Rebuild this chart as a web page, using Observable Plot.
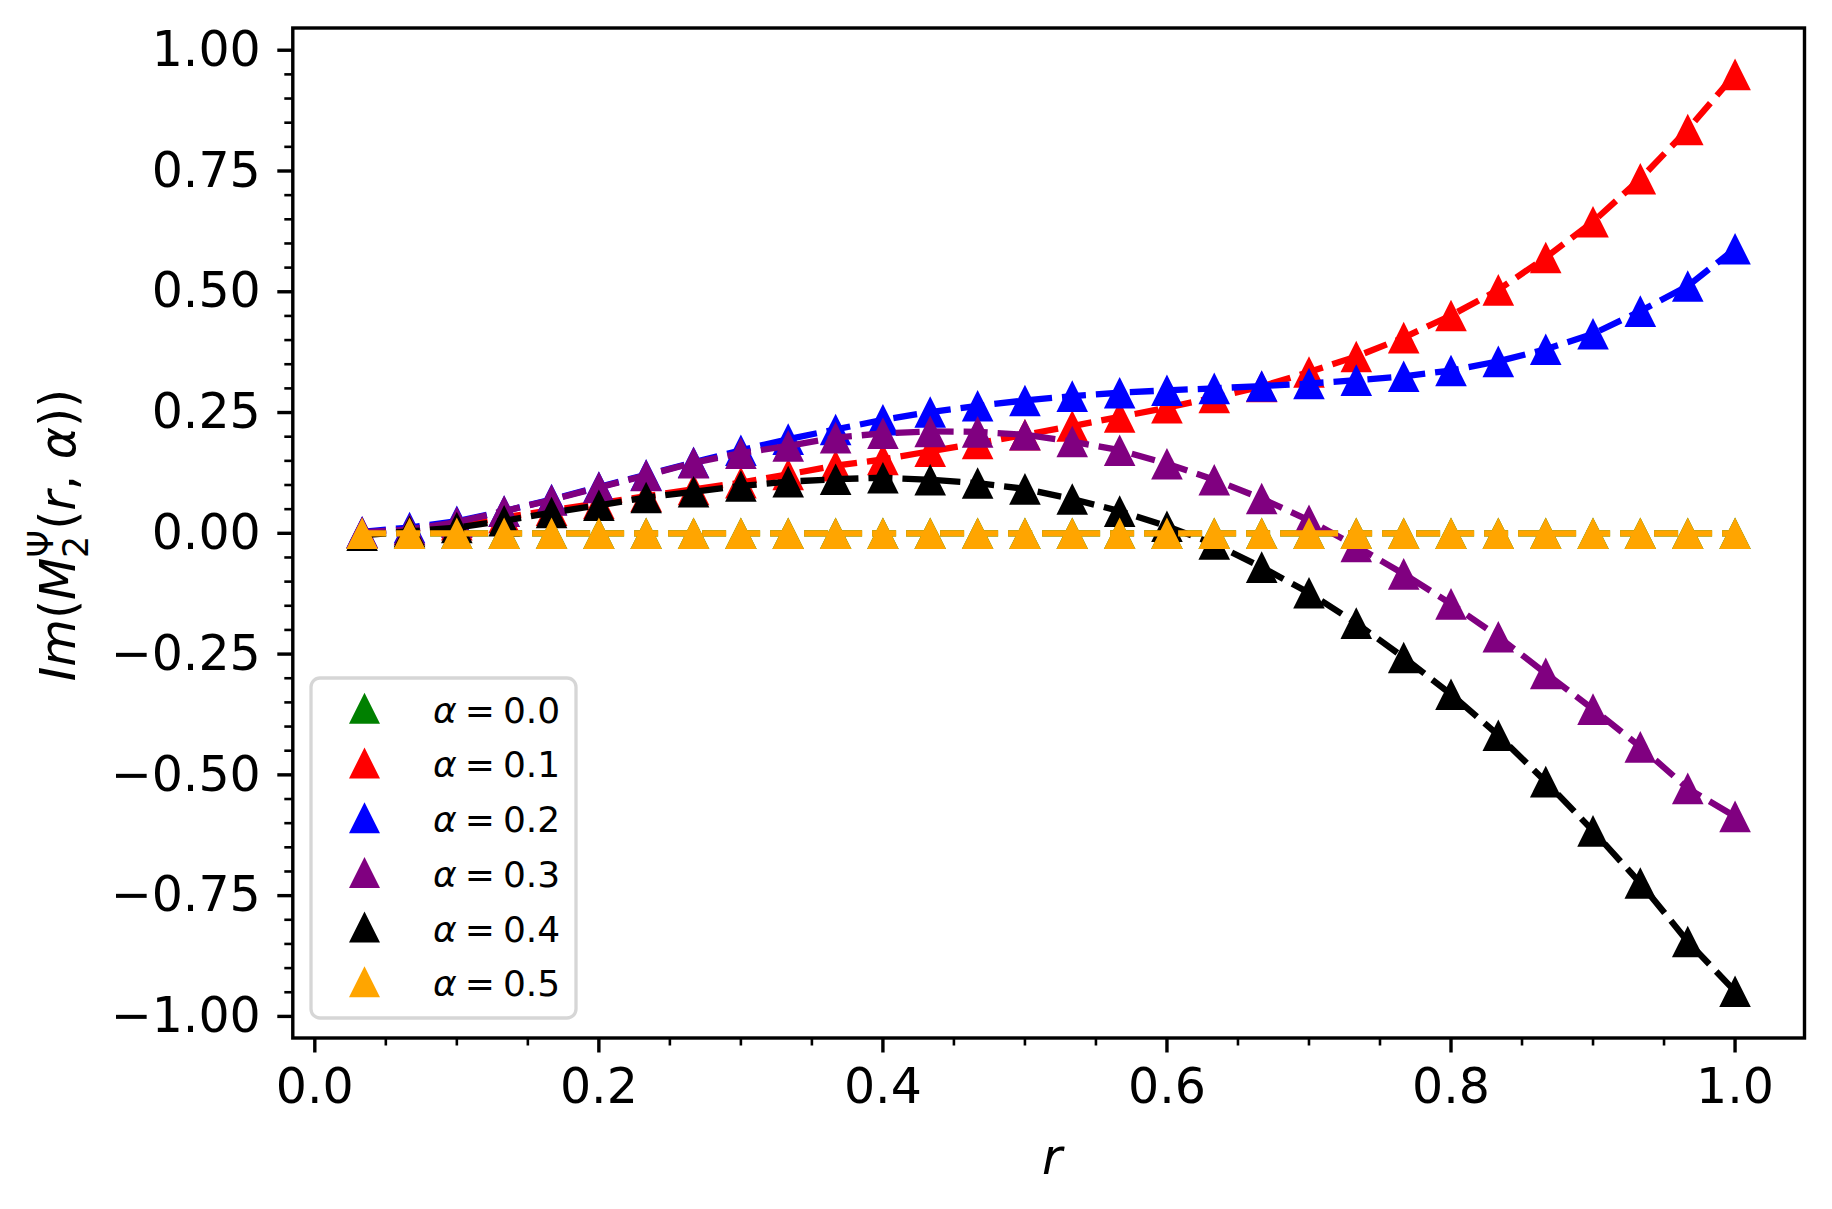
<!DOCTYPE html>
<html>
<head>
<meta charset="utf-8">
<script src="https://cdn.jsdelivr.net/npm/d3@7"></script>
<script src="https://cdn.jsdelivr.net/npm/@observablehq/plot@0.6"></script>
<style>
  html, body { margin: 0; padding: 0; background: #ffffff; }
  #chart { width: 1832px; height: 1209px; }
  svg text { white-space: pre; }
</style>
</head>
<body>
<div id="chart"></div>
<script>
// ---------------- data ----------------
const rValues = [0.0333, 0.0667, 0.1000, 0.1333, 0.1667, 0.2000, 0.2333, 0.2667, 0.3000, 0.3333,
                 0.3667, 0.4000, 0.4333, 0.4667, 0.5000, 0.5333, 0.5667, 0.6000, 0.6333, 0.6667,
                 0.7000, 0.7333, 0.7667, 0.8000, 0.8333, 0.8667, 0.9000, 0.9333, 0.9667, 1.0000];

const alpha00 = [0, 0, 0, 0, 0, 0, 0, 0, 0, 0,
                 0, 0, 0, 0, 0, 0, 0, 0, 0, 0,
                 0, 0, 0, 0, 0, 0, 0, 0, 0, 0];
const alpha01 = [0.002, 0.008, 0.018, 0.033, 0.048, 0.062, 0.077, 0.091, 0.105, 0.122,
                 0.140, 0.153, 0.170, 0.186, 0.204, 0.222, 0.241, 0.260, 0.281, 0.304,
                 0.334, 0.366, 0.405, 0.451, 0.504, 0.571, 0.645, 0.734, 0.836, 0.950];
const alpha02 = [0.003, 0.012, 0.025, 0.046, 0.070, 0.096, 0.121, 0.147, 0.172, 0.195,
                 0.215, 0.235, 0.251, 0.264, 0.275, 0.284, 0.291, 0.296, 0.300, 0.305,
                 0.310, 0.317, 0.325, 0.337, 0.356, 0.381, 0.413, 0.460, 0.512, 0.589];
const alpha03 = [0.002, 0.008, 0.023, 0.046, 0.069, 0.095, 0.120, 0.146, 0.166, 0.181,
                 0.198, 0.207, 0.211, 0.210, 0.204, 0.190, 0.172, 0.144, 0.111, 0.072,
                 0.027, -0.027, -0.084, -0.146, -0.214, -0.290, -0.364, -0.442, -0.528, -0.586];
const alpha04 = [-0.004, 0.004, 0.012, 0.026, 0.043, 0.058, 0.074, 0.086, 0.098, 0.107,
                 0.112, 0.115, 0.111, 0.104, 0.092, 0.071, 0.046, 0.0145, -0.022, -0.070,
                 -0.123, -0.186, -0.257, -0.333, -0.418, -0.514, -0.616, -0.724, -0.845, -0.948];
const alpha05 = [0, 0, 0, 0, 0, 0, 0, 0, 0, 0,
                 0, 0, 0, 0, 0, 0, 0, 0, 0, 0,
                 0, 0, 0, 0, 0, 0, 0, 0, 0, 0];

const seriesLabels = ["0.0", "0.1", "0.2", "0.3", "0.4", "0.5"];
const seriesColors = ["green", "red", "blue", "purple", "black", "orange"];
const seriesValues = [alpha00, alpha01, alpha02, alpha03, alpha04, alpha05];

const xMajor = [0.0, 0.2, 0.4, 0.6, 0.8, 1.0];
const xMinor = [0.05, 0.10, 0.15, 0.25, 0.30, 0.35, 0.45, 0.50, 0.55, 0.65, 0.70, 0.75, 0.85, 0.90, 0.95];
const yMajor = [-1.00, -0.75, -0.50, -0.25, 0.00, 0.25, 0.50, 0.75, 1.00];
const yMinor = [-0.95, -0.90, -0.85, -0.80, -0.70, -0.65, -0.60, -0.55, -0.45, -0.40, -0.35, -0.30,
                -0.20, -0.15, -0.10, -0.05, 0.05, 0.10, 0.15, 0.20, 0.30, 0.35, 0.40, 0.45,
                0.55, 0.60, 0.65, 0.70, 0.80, 0.85, 0.90, 0.95];

// ---------------- chart ----------------
// matplotlib-style "^" marker: width == height, centred on the point
const triangle = {
  draw(ctx, size) {
    const h = Math.sqrt(size / Math.PI);
    ctx.moveTo(0, -h);
    ctx.lineTo(h, h);
    ctx.lineTo(-h, h);
    ctx.closePath();
  }
};

const series = seriesLabels.map((label, i) => ({
  label,
  color: seriesColors[i],
  data: rValues.map((r, j) => ({r, v: seriesValues[i][j]}))
}));

const marks = [];
for (const s of series) {
  marks.push(Plot.line(s.data, {
    x: "r", y: "v", stroke: s.color, strokeWidth: 6.3,
    strokeDasharray: "24,10", strokeLinecap: "butt", strokeLinejoin: "round"
  }));
  marks.push(Plot.dot(s.data, {
    x: "r", y: "v", r: 15.8, symbol: triangle, fill: s.color, stroke: "none"
  }));
}

const fmt2 = d3.format(".2f");
const fmt1 = d3.format(".1f");

const svgNode = Plot.plot({
  width: 1832,
  height: 1209,
  marginLeft: 292.3,
  marginRight: 28,
  marginTop: 27.5,
  marginBottom: 171.5,
  style: {background: "white", color: "black", fontFamily: "DejaVu Sans"},
  x: {domain: [-0.0155, 1.0489]},
  y: {domain: [-1.0447, 1.046]},
  marks: [
    ...marks,
    Plot.axisX(xMinor, {tickSize: 8, tickFormat: () => "", strokeWidth: 2.6, label: null}),
    Plot.axisX(xMajor, {tickSize: 15, tickPadding: 15, tickFormat: fmt1, fontSize: 49, strokeWidth: 3.4, label: null}),
    Plot.axisY(yMinor, {tickSize: 8, tickFormat: () => "", strokeWidth: 2.6, label: null}),
    Plot.axisY(yMajor, {tickSize: 15, tickPadding: 17, tickFormat: fmt2, fontSize: 49, strokeWidth: 3.4, label: null}),
    Plot.frame({stroke: "black", strokeWidth: 3.4})
  ]
});

document.getElementById("chart").appendChild(svgNode);
const svg = d3.select(svgNode);

// ---------------- axis labels ----------------
const yl = svg.append("text")
  .attr("transform", "translate(75,535) rotate(-90)")
  .attr("text-anchor", "middle")
  .attr("font-family", "DejaVu Sans")
  .attr("font-size", 49)
  .attr("fill", "black");
yl.append("tspan").attr("font-style", "italic").text("Im");
yl.append("tspan").text("(");
yl.append("tspan").attr("font-style", "italic").text("M");
yl.append("tspan").attr("font-size", 35).attr("dy", -22).text("Ψ");
yl.append("tspan").attr("font-size", 35).attr("dx", -28).attr("dy", 35).text("2");
yl.append("tspan").attr("dx", 6).attr("dy", -13).text("(");
yl.append("tspan").attr("font-style", "italic").text("r");
yl.append("tspan").text(", ");
yl.append("tspan").attr("font-style", "italic").text("α");
yl.append("tspan").text("))");

svg.append("text")
  .attr("x", 1052).attr("y", 1174)
  .attr("text-anchor", "middle")
  .attr("font-family", "DejaVu Sans")
  .attr("font-style", "italic")
  .attr("font-size", 49)
  .attr("fill", "black")
  .text("r");

// ---------------- legend ----------------
const lg = svg.append("g")
  .attr("font-family", "DejaVu Sans")
  .attr("font-size", 36)
  .attr("text-anchor", "start")
  .attr("fill", "black");
lg.append("rect")
  .attr("x", 311).attr("y", 678).attr("width", 265).attr("height", 340)
  .attr("rx", 9).attr("ry", 9)
  .attr("fill", "white").attr("fill-opacity", 0.8)
  .attr("stroke", "#cccccc").attr("stroke-opacity", 0.8).attr("stroke-width", 3.3);
const triPath = d3.symbol(triangle, Math.PI * 15.5 * 15.5)();
series.forEach((s, i) => {
  const cy = 708.3 + i * 54.7;
  lg.append("path").attr("d", triPath).attr("transform", `translate(364.5,${cy})`).attr("fill", s.color);
  const t = lg.append("text").attr("x", 433).attr("y", cy + 14.4).attr("text-anchor", "start");
  t.append("tspan").attr("font-style", "italic").text("α");
  t.append("tspan").attr("dx", 8).text("=");
  t.append("tspan").attr("dx", 8).text(s.label);
});
</script>
</body>
</html>
